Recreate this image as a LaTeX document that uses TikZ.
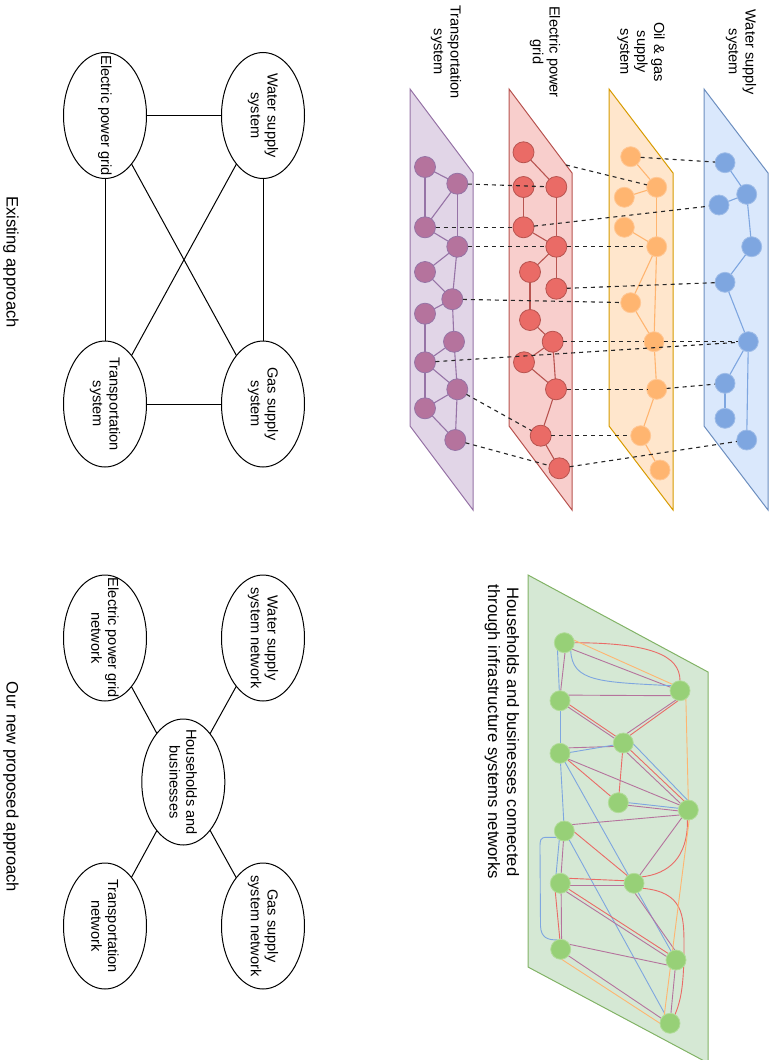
\documentclass[tikz,border=0pt]{standalone}
\usepackage{fontspec}
\setmainfont{Liberation Sans}
\usetikzlibrary{shapes.geometric}

\pgfdeclarelayer{planes}
\pgfdeclarelayer{links}
\pgfsetlayers{planes,links,main}

% layer colours (fill / outline / node)
\definecolor{wfill}{HTML}{DAE8FC}\definecolor{wline}{HTML}{6C8EBF}\definecolor{wnode}{HTML}{7EA6E0}
\definecolor{ofill}{HTML}{FFE6CC}\definecolor{oline}{HTML}{D79B00}\definecolor{onode}{HTML}{FFB570}
\definecolor{rfill}{HTML}{F8CECC}\definecolor{rline}{HTML}{B85450}\definecolor{rnode}{HTML}{EA6B66}
\definecolor{pfill}{HTML}{E1D5E7}\definecolor{pline}{HTML}{9673A6}\definecolor{pnode}{HTML}{B5739D}
\definecolor{gfill}{HTML}{D5E8D4}\definecolor{gline}{HTML}{82B366}\definecolor{gnode}{HTML}{97D077}

\begin{document}
\begin{tikzpicture}[x=1pt,y=-1pt,
  every node/.style={inner sep=0pt, outer sep=0pt},
  lbl/.style={rotate=-90, align=center, font=\fontsize{14.6}{16.8}\selectfont},
  ttl/.style={rotate=-90, align=center, font=\fontsize{16.6}{19.2}\selectfont},
  ell/.style={ellipse, draw=black, line width=1, minimum width=83, minimum height=126},
  link/.style={draw=black, line width=1},
  plane/.style={line width=1},
  dsh/.style={draw=black!85, line width=1.1, dash pattern=on 4pt off 4pt},
  wn/.style={circle, minimum size=20, fill=wnode, draw=wnode!75!white, line width=0.8},
  on/.style={circle, minimum size=20, fill=onode, draw=onode!75!white, line width=0.8},
  rn/.style={circle, minimum size=21, fill=rnode, draw=rline, line width=0.8},
  pn/.style={circle, minimum size=21, fill=pnode, draw=pline, line width=0.8},
  gn/.style={circle, minimum size=20, fill=gnode, draw=gnode!75!white, line width=0.8},
  we/.style={draw=wnode, line width=1.1},
  oe/.style={draw=onode, line width=1.1},
  re/.style={draw=rline, line width=1.1},
  pe/.style={draw=pline, line width=1.1},
  gB/.style={draw=wnode, line width=0.9},
  gR/.style={draw=rnode, line width=0.9},
  gP/.style={draw=pnode, line width=0.9},
  gO/.style={draw=onode, line width=0.9},
]
\useasboundingbox (0,0) rectangle (770,1060);

% ---------- infrastructure layers ----------
\begin{pgfonlayer}{planes}
\filldraw[plane, fill=pfill, draw=pline] (410,89) -- (473,173) -- (473,510) -- (410,426) -- cycle;
\filldraw[plane, fill=rfill, draw=rline] (509,89) -- (572,173) -- (572,510) -- (509,426) -- cycle;
\filldraw[plane, fill=ofill, draw=oline] (609,89) -- (673,173) -- (673,510) -- (609,426) -- cycle;
\filldraw[plane, fill=wfill, draw=wline] (704,89) -- (768,173) -- (768,510) -- (704,426) -- cycle;
\filldraw[plane, fill=gfill, draw=gline] (528,575) -- (708,672) -- (708,1063) -- (528,967) -- cycle;
\end{pgfonlayer}

\node[lbl] (lw) at (741,52) {Water supply\\system};
\node[lbl] (lo) at (641,52) {Oil \& gas\\supply\\system};
\node[lbl] (lr) at (545,52) {Electric power\\grid};
\node[lbl] (lp) at (446,52) {Transportation\\system};

% water supply nodes
\node[wn] (B1) at (725,162.7) {};
\node[wn] (B2) at (746.7,194.3) {};
\node[wn] (B3) at (719,205) {};
\node[wn] (B4) at (751.7,246.7) {};
\node[wn] (B5) at (725,282.3) {};
\node[wn] (B6) at (748.3,341.7) {};
\node[wn] (B7) at (725,383.3) {};
\node[wn] (B8) at (725,418.3) {};
\node[wn] (B9) at (746.7,440) {};
% oil & gas nodes
\node[on] (O1) at (630.7,156.7) {};
\node[on] (O2) at (656.7,187.3) {};
\node[on] (O3) at (624.3,197.3) {};
\node[on] (O4) at (624.3,227.3) {};
\node[on] (O5) at (656.7,246.7) {};
\node[on] (O6) at (630.7,302.7) {};
\node[on] (O7) at (654,341.7) {};
\node[on] (O8) at (656.7,389.3) {};
\node[on] (O9) at (640.7,435.7) {};
\node[on] (O10) at (660,470) {};
% power grid nodes
\node[rn] (R1) at (523.5,152.3) {};
\node[rn] (R2) at (556.3,187) {};
\node[rn] (R3) at (523.5,187) {};
\node[rn] (R4) at (523.5,227.3) {};
\node[rn] (R5) at (556.3,246.7) {};
\node[rn] (R6) at (530,272) {};
\node[rn] (R7) at (556.3,288.7) {};
\node[rn] (R8) at (530,320) {};
\node[rn] (R9) at (552.7,341.7) {};
\node[rn] (R10) at (524,362.3) {};
\node[rn] (R11) at (556,389.3) {};
\node[rn] (R12) at (540.7,435.7) {};
\node[rn] (R13) at (559.3,468.3) {};
% transportation nodes
\node[pn] (P1) at (425,167) {};
\node[pn] (P2) at (457.3,183.7) {};
\node[pn] (P3) at (425,227.3) {};
\node[pn] (P4) at (457.3,246.7) {};
\node[pn] (P5) at (425,272) {};
\node[pn] (P6) at (452.3,299.2) {};
\node[pn] (P7) at (425,313.7) {};
\node[pn] (P8) at (454,341.7) {};
\node[pn] (P9) at (425,362.3) {};
\node[pn] (P10) at (457.3,389.3) {};
\node[pn] (P11) at (425,408.3) {};
\node[pn] (P12) at (455.3,440) {};

% links inside each layer, kept behind the nodes
\begin{pgfonlayer}{links}
\foreach \a/\b in {B1/B2,B2/B3,B2/B4,B4/B5,B5/B6,B6/B7,B7/B8,B6/B9}
  \draw[we] (\a) -- (\b);
\foreach \a/\b in {O1/O2,O2/O3,O2/O5,O4/O5,O5/O6,O5/O7,O6/O7,O7/O8,O8/O9,O9/O10}
  \draw[oe] (\a) -- (\b);
\foreach \a/\b in {R1/R2,R3/R4,R2/R5,R4/R5,R5/R6,R5/R7,R6/R8,R8/R9,R9/R10,R9/R11,R10/R11,R11/R12,R12/R13}
  \draw[re] (\a) -- (\b);
\foreach \a/\b in {P1/P2,P1/P3,P2/P3,P2/P4,P3/P4,P4/P5,P4/P6,P5/P6,P6/P7,P6/P8,P7/P9,P8/P9,P8/P10,P9/P10,P9/P11,P10/P11,P10/P12,P11/P12}
  \draw[pe] (\a) -- (\b);
\end{pgfonlayer}

% dependencies between layers
\coordinate (redtop) at (566,165);
\draw[dsh] (O1) -- (B1);
\draw[dsh] (redtop) -- (O2);
\draw[dsh] (P2) -- (R2);
\draw[dsh] (P3) -- (R4);
\draw[dsh] (R4) -- (B3);
\draw[dsh] (P4) -- (R5);
\draw[dsh] (R5) -- (O5);
\draw[dsh] (R7) -- (B5);
\draw[dsh] (P6) -- (O6);
\draw[dsh] (R9) -- (O7);
\draw[dsh] (O7) -- (B6);
\draw[dsh] (P9) -- (B6);
\draw[dsh] (R11) -- (O8);
\draw[dsh] (O8) -- (B7);
\draw[dsh] (P10) -- (R12);
\draw[dsh] (R12) -- (O9);
\draw[dsh] (P12) -- (R13);
\draw[dsh] (R13) -- (B9);

% ---------- households and businesses layer ----------
\node[rotate=-90, align=center, font=\fontsize{16.6}{19}\selectfont] (lg) at (502,732)
  {Households and businesses connected\\through infrastructure systems networks};

\node[gn] (G1) at (564.3,642.7) {};
\node[gn] (G2) at (680,690.7) {};
\node[gn] (G3) at (560,700.7) {};
\node[gn] (G4) at (623.3,743) {};
\node[gn] (G5) at (560,753.3) {};
\node[gn] (G6) at (618.3,802.7) {};
\node[gn] (G7) at (688.3,810) {};
\node[gn] (G8) at (564.3,831) {};
\node[gn] (G9) at (560.3,883.3) {};
\node[gn] (G10) at (634,883.3) {};
\node[gn] (G11) at (560.7,949.3) {};
\node[gn] (G12) at (676,960) {};
\node[gn] (G13) at (670,1023.3) {};

% links of the combined network
\begin{pgfonlayer}{links}
\draw[gR] (G1.east) .. controls (650,643) and (680,655) .. (G2.north);
\draw[gO] (G1.15) -- (G2.140);
\draw[gP] (G1.-40) -- (G2.160);
\draw[gB] (G1.-50) .. controls (572,682) and (600,682) .. (G2.150);
\draw[gB] (G1.-133) -- (G3.94);
\draw[gP] (G1.-86) -- (G3.86);
\draw[gP] (G3.34) -- (G2.-150);
\draw[gR] (G3.-23) -- (G4.138);
\draw[gP] (G3.-38) -- (G4.152);
\draw[gB] (G3) -- (G5);
\draw[gP] (G2.-113) -- (G4.70);
\draw[gR] (G2.-100) -- (G4.49);
\draw[gO] (G2.-54) -- (G7.90);
\draw[gP] (G5.33) -- (G4.-160);
\draw[gB] (G5.5) -- (G4.-168);
\draw[gB] (G4.-5) -- (G7.95);
\draw[gR] (G4.-45) -- (G7.115);
\draw[gP] (G4.-70) -- (G7.140);
\draw[gR] (G4) -- (G6);
\draw[gR] (G5) -- (G6);
\draw[gP] (G5.-35) -- (G7.150);
\draw[gB] (G6.0) -- (G7.170);
\draw[gP] (G6.-15) -- (G7.185);
\draw[gB] (G5) -- (G8);
\draw[gB] (G5) -- (G12);
\draw[gP] (G8.40) -- (G7.-150);
\draw[gB] (G8.-120) -- (G9.115);
\draw[gP] (G8.-95) -- (G9.85);
\draw[gB] (G8.-140) -- (547,837.3) .. controls (540,837.3) and (540,840) .. (540,848)
  -- (540.5,926) .. controls (541,938) and (548,940) .. (G11.110);
\draw[gR] (G8.-5) -- (G10.131);
\draw[gB] (G8) -- (G13);
\draw[gR] (G9.30) -- (G10.165);
\draw[gP] (G9.-15) -- (G10.-165);
\draw[gP] (G7.-130) -- (G10.55);
\draw[gR] (G7.-95) .. controls (688,858) and (668,874) .. (G10.40);
\draw[gR] (G10.-30) .. controls (683,892) and (684,915) .. (684,945)
  .. controls (684,985) and (681,1000) .. (G13.60);
\draw[gP] (G10.-84) -- (G12.97);
\draw[gR] (G9.-35) -- (G12.140);
\draw[gP] (G9.-55) -- (G12.160);
\draw[gR] (G9.-120) -- (G11.95);
\draw[gP] (G9.-85) -- (G11.85);
\draw[gP] (G11.30) -- (G12.-150);
\draw[gP] (G11.-40) -- (G13.150);
\draw[gO] (G11.-85) -- (G13.180);
\draw[gP] (G12) -- (G13);
\draw[gO] (G7.-85) -- (G13.125);
\end{pgfonlayer}

% ---------- existing approach ----------
\node[ell] (ew) at (263,115.5) {};
\node[ell] (ee) at (105,115.5) {};
\node[ell] (et) at (105,404) {};
\node[ell] (eg) at (263,404) {};
\node[lbl] at (ew) {Water supply\\system};
\node[lbl] at (ee) {Electric power grid};
\node[lbl] at (et) {Transportation\\system};
\node[lbl] at (eg) {Gas supply\\system};
\draw[link] (ew) -- (ee);
\draw[link] (ew) -- (eg);
\draw[link] (ee) -- (et);
\draw[link] (et) -- (eg);
\draw[link] (ee) -- (eg);
\draw[link] (ew) -- (et);
\node[ttl] (t1) at (11,262) {Existing approach};

% ---------- proposed approach ----------
\node[ell] (nw) at (263,638) {};
\node[ell] (ne) at (105,638) {};
\node[ell] (nh) at (183.3,782) {};
\node[ell] (ng) at (263,926) {};
\node[ell] (nt) at (105,926) {};
\node[lbl] at (nw) {Water supply\\system network};
\node[lbl] at (ne) {Electric power grid\\network};
\node[lbl] at (nh) {Households and\\businesses};
\node[lbl] at (ng) {Gas supply\\system network};
\node[lbl] at (nt) {Transportation\\network};
\draw[link] (nh) -- (nw);
\draw[link] (nh) -- (ne);
\draw[link] (nh) -- (ng);
\draw[link] (nh) -- (nt);
\node[ttl] (t2) at (11,787) {Our new proposed approach};
\end{tikzpicture}
\end{document}
